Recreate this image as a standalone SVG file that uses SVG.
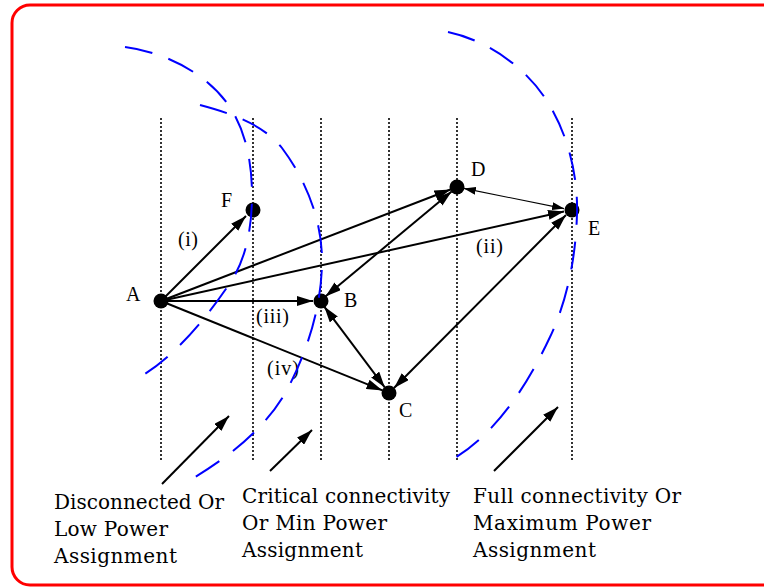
<svg xmlns="http://www.w3.org/2000/svg" width="764" height="587" viewBox="0 0 764 587">
<style>
.grid{stroke:#000;stroke-width:1.6;stroke-dasharray:2 2;fill:none}
.arc{stroke:#0000ff;stroke-width:2;stroke-dasharray:28 17;fill:none}
.c{stroke:#000;stroke-width:2;fill:none}
.thin{stroke:#000;stroke-width:1.1;fill:none}
.node{fill:#000}
.lbl{font-family:"Liberation Serif","Times New Roman",serif;font-size:20px;fill:#000}
.cap{font-family:"DejaVu Serif","Liberation Serif",serif;font-size:20px;fill:#000}
</style>
<defs>
<marker id="ah" markerUnits="userSpaceOnUse" markerWidth="16" markerHeight="10" refX="16" refY="5" orient="auto-start-reverse">
<path d="M0,0 L16,5 L0,10 z" fill="#000"/>
</marker>
<marker id="ahs" markerUnits="userSpaceOnUse" markerWidth="12" markerHeight="8" refX="12" refY="4" orient="auto-start-reverse">
<path d="M0,0 L12,4 L0,8 z" fill="#000"/>
</marker>
</defs>
<rect x="12" y="5" width="800" height="580" rx="18" ry="18" fill="#fff" stroke="#ff0000" stroke-width="3"/>
<g id="gridlines">
<line class="grid" x1="161" y1="118" x2="161" y2="462"/>
<line class="grid" x1="253" y1="118" x2="253" y2="462"/>
<line class="grid" x1="321" y1="118" x2="321" y2="462"/>
<line class="grid" x1="389" y1="118" x2="389" y2="462"/>
<line class="grid" x1="457" y1="118" x2="457" y2="462"/>
<line class="grid" x1="572" y1="118" x2="572" y2="462"/>
</g>
<g id="connectors">
<line class="c" x1="161" y1="301" x2="246" y2="216" marker-end="url(#ah)"/>
<line class="c" x1="161" y1="301" x2="450.5" y2="189.5" marker-end="url(#ah)"/>
<line class="c" x1="161" y1="301" x2="564" y2="211.5" marker-end="url(#ah)"/>
<line class="c" x1="161" y1="301" x2="313" y2="301" marker-end="url(#ah)"/>
<line class="c" x1="161" y1="301" x2="382.5" y2="390.4" marker-end="url(#ah)"/>
<line class="c" x1="325.4" y1="296.5" x2="451.6" y2="191.5" marker-start="url(#ah)" marker-end="url(#ah)"/>
<line class="thin" x1="463.9" y1="188.4" x2="564.1" y2="208.6" marker-start="url(#ahs)" marker-end="url(#ahs)"/>
<line class="c" x1="324.2" y1="306.6" x2="384.8" y2="387.4" marker-start="url(#ah)" marker-end="url(#ah)"/>
<line class="c" x1="566" y1="215" x2="394" y2="388" marker-start="url(#ah)" marker-end="url(#ah)"/>
<line class="c" x1="162" y1="484" x2="229" y2="416" marker-end="url(#ah)"/>
<line class="c" x1="270" y1="471" x2="312" y2="430" marker-end="url(#ah)"/>
<line class="c" x1="494" y1="471" x2="558" y2="407" marker-end="url(#ah)"/>
<text class="lbl" x="178" y="246" textLength="20">(i)</text>
<text class="lbl" x="476" y="253" textLength="27">(ii)</text>
<text class="lbl" x="256" y="323" textLength="33">(iii)</text>
<text class="lbl" x="267" y="375" textLength="32">(iv)</text>
</g>
<g id="node-A"><circle class="node" cx="161" cy="301" r="7.5"/><text class="lbl" x="126" y="301">A</text></g>
<g id="node-F"><circle class="node" cx="253" cy="210" r="7.5"/><text class="lbl" x="221" y="207">F</text></g>
<g id="node-B"><circle class="node" cx="321" cy="301" r="7.5"/><text class="lbl" x="344" y="307">B</text></g>
<g id="node-C"><circle class="node" cx="389" cy="393" r="7.5"/><text class="lbl" x="399" y="417">C</text></g>
<g id="node-D"><circle class="node" cx="457" cy="187" r="7.5"/><text class="lbl" x="471" y="176">D</text></g>
<g id="node-E"><circle class="node" cx="572" cy="210" r="7.5"/><text class="lbl" x="588" y="235">E</text></g>
<g id="ranges">
<path class="arc" d="M125,47 C164,52 204,72 227,103 C246,129 252,163 252,195 C252,225 247,258 230,283 C205,320 174,358 135,380"/>
<path class="arc" d="M200,105 C230,113 263,124 282,148 C306,180 322,220 322,260 C322,305 308,350 287,390 C265,430 225,460 185,483"/>
<path class="arc" d="M448,32 C486,40 524,66 545,98 C567,131 578,173 577,213 C576,255 568,299 550,337 C527,386 495,436 448,462"/>
</g>
<g id="caption-low">
<text class="cap" x="54" y="509" textLength="170">Disconnected Or</text>
<text class="cap" x="54" y="536" textLength="114">Low Power</text>
<text class="cap" x="54" y="563" textLength="123">Assignment</text>
</g>
<g id="caption-min">
<text class="cap" x="242" y="503" textLength="208">Critical connectivity</text>
<text class="cap" x="242" y="530" textLength="145">Or Min Power</text>
<text class="cap" x="242" y="557" textLength="121">Assignment</text>
</g>
<g id="caption-max">
<text class="cap" x="473" y="503" textLength="208">Full connectivity Or</text>
<text class="cap" x="473" y="530" textLength="178">Maximum Power</text>
<text class="cap" x="473" y="557" textLength="123">Assignment</text>
</g>
</svg>
